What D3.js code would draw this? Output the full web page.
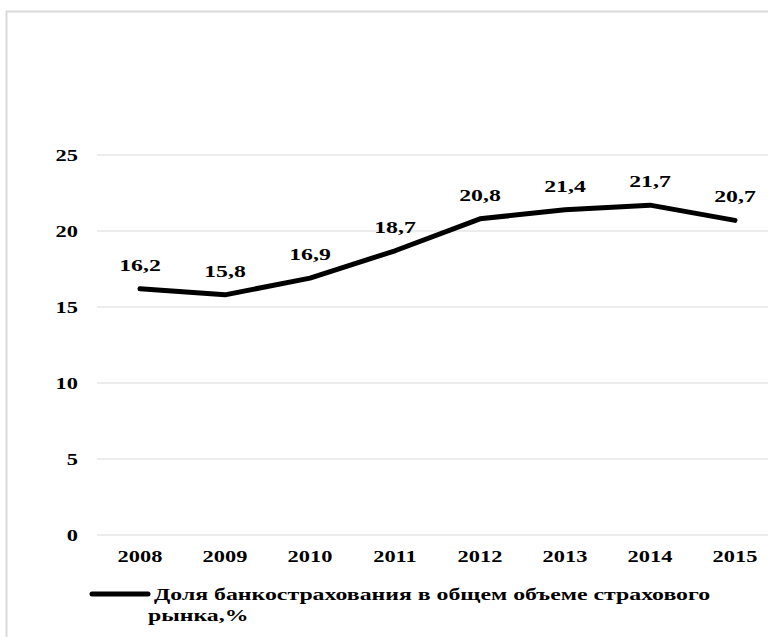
<!DOCTYPE html>
<html>
<head>
<meta charset="utf-8">
<script src="https://cdn.jsdelivr.net/npm/d3@7"></script>
<style>
  html, body { margin: 0; padding: 0; background: #fff; }
  svg { display: block; }
  text { font-family: "Liberation Serif", "Times New Roman", serif; font-weight: bold; fill: #000; }
</style>
</head>
<body>
<svg id="chart" width="768" height="637"></svg>
<script>
// Share of bancassurance in the total insurance market, %
const years = ["2008", "2009", "2010", "2011", "2012", "2013", "2014", "2015"];
const shares = [16.2, 15.8, 16.9, 18.7, 20.8, 21.4, 21.7, 20.7];
const yTicks = [0, 5, 10, 15, 20, 25];
const seriesName = " Доля банкострахования в общем объеме страхового";
const seriesNameLine2 = "рынка,%";

const svg = d3.select("#chart");
const stretch = 1.4; // horizontal stretch of the lettering
const fmt = v => String(v).replace(".", ",");

// chart frame
svg.append("rect")
  .attr("x", 6.5).attr("y", 11.5)
  .attr("width", 800).attr("height", 700)
  .attr("fill", "none").attr("stroke", "#d9d9d9").attr("stroke-width", 2);

const x = d3.scalePoint().domain(years).range([140, 735]);
const y = d3.scaleLinear().domain([0, 25]).range([535, 155]);

// horizontal gridlines
svg.append("g").selectAll("line").data(yTicks).join("line")
  .attr("x1", 97).attr("x2", 768)
  .attr("y1", d => y(d)).attr("y2", d => y(d))
  .attr("stroke", "#d9d9d9").attr("stroke-width", 1);

// y tick labels
svg.append("g").selectAll("text").data(yTicks).join("text")
  .attr("transform", d => `translate(78,${y(d) + 5.5}) scale(${stretch},1)`)
  .attr("text-anchor", "end")
  .attr("font-size", 16)
  .text(d => d);

// x category labels
svg.append("g").selectAll("text").data(years).join("text")
  .attr("transform", d => `translate(${x(d)},562) scale(${stretch},1)`)
  .attr("text-anchor", "middle")
  .attr("font-size", 16)
  .text(d => d);

const data = years.map((yr, i) => ({ year: yr, value: shares[i] }));

// series line
svg.append("path")
  .datum(data)
  .attr("fill", "none")
  .attr("stroke", "#000")
  .attr("stroke-width", 5)
  .attr("stroke-linecap", "round")
  .attr("stroke-linejoin", "round")
  .attr("d", d3.line().x(d => x(d.year)).y(d => y(d.value)));

// value labels
svg.append("g").selectAll("text").data(data).join("text")
  .attr("transform", d => `translate(${x(d.year)},${y(d.value) - 18}) scale(${stretch},1)`)
  .attr("text-anchor", "middle")
  .attr("font-size", 17)
  .text(d => fmt(d.value));

// legend
svg.append("line")
  .attr("x1", 92).attr("x2", 148)
  .attr("y1", 594).attr("y2", 594)
  .attr("stroke", "#000").attr("stroke-width", 5)
  .attr("stroke-linecap", "round");

svg.append("text")
  .attr("transform", `translate(148,600) scale(${stretch},1)`)
  .attr("font-size", 17)
  .attr("xml:space", "preserve")
  .style("white-space", "pre")
  .text(seriesName);

svg.append("text")
  .attr("transform", `translate(148,621) scale(${stretch},1)`)
  .attr("font-size", 17)
  .text(seriesNameLine2);
</script>
</body>
</html>
